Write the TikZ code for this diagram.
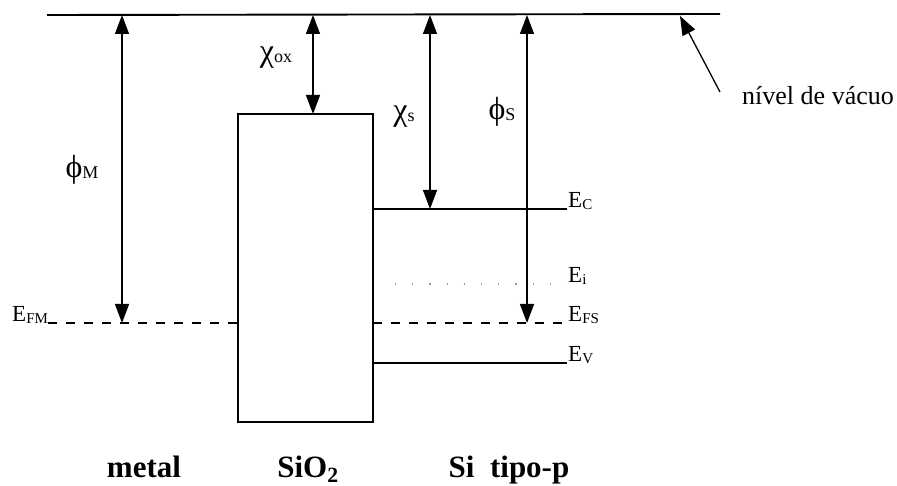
\documentclass[tikz,border=0pt]{standalone}
\usepackage{fontspec}
\setmainfont{Liberation Serif}
\usetikzlibrary{arrows.meta}
\newcommand{\sbs}[1]{{\fontsize{15}{15}\selectfont\raisebox{-1.5pt}{#1}}}
\newcommand{\gsb}[1]{{\fontsize{18}{18}\selectfont\raisebox{-1pt}{#1}}}
\newcommand{\grk}[1]{{\fontsize{32}{32}\selectfont #1}}
\begin{document}
\begin{tikzpicture}[x=1pt,y=-1pt,
  lvl/.style={line width=1.4pt},
  dbl/.style={line width=1.3pt,{Triangle[width=14pt,length=19pt]}-{Triangle[width=14pt,length=19pt]}},
  dashlvl/.style={line width=1.4pt,dash pattern=on 9pt off 9pt},
  dotlvl/.style={line width=1.3pt,gray!80,dash pattern=on 1.2pt off 16pt},
  elab/.style={inner sep=0pt,anchor=base west,font=\fontsize{23}{25}\selectfont},
  glab/.style={inner sep=0pt},
  blab/.style={inner sep=0pt,anchor=base,font=\fontsize{31}{33}\selectfont\bfseries},
  tlab/.style={inner sep=0pt,anchor=base west,font=\fontsize{26}{28}\selectfont}
]
\path[use as bounding box] (0,0) rectangle (897,486);
% vacuum level
\coordinate (vacL) at (47,15);
\coordinate (vacR) at (720,14);
\draw[line width=1.9pt] (vacL) -- (vacR);
% oxide box
\node[draw,line width=1.4pt,inner sep=0pt,minimum width=135pt,minimum height=308pt] (ox) at (305.5,268) {};
% levels
\coordinate (ecL) at (373,209);  \coordinate (ecR) at (567,209);
\coordinate (eiL) at (395,284);  \coordinate (eiR) at (567,284);
\coordinate (efsL) at (373,323); \coordinate (efsR) at (567,323);
\coordinate (evL) at (373,363);  \coordinate (evR) at (567,363);
\coordinate (efmL) at (48,323);  \coordinate (efmR) at (238,323);
\draw[lvl] (ecL) -- (ecR);
\draw[dotlvl] (eiL) -- (eiR);
\draw[dashlvl] (efsL) -- (efsR);
\draw[lvl] (evL) -- (evR);
\draw[dashlvl] (efmL) -- (efmR);
% arrows
\coordinate (phiMt) at (122,15);  \coordinate (phiMb) at (122,323);
\coordinate (chiOt) at (313,15);  \coordinate (chiOb) at (313,114);
\coordinate (chiSt) at (430,15);  \coordinate (chiSb) at (430,209);
\coordinate (phiSt) at (527,15);  \coordinate (phiSb) at (527,323);
\draw[dbl] (phiMt) -- (phiMb);
\draw[dbl] (chiOt) -- (chiOb);
\draw[dbl] (chiSt) -- (chiSb);
\draw[dbl] (phiSt) -- (phiSb);
% greek labels
\node[glab] (lphiM) at (82,170) {\grk{ϕ}\gsb{M}};
\node[glab] (lchiO) at (276,58) {\grk{χ}\gsb{ox}};
\node[glab] (lchiS) at (404,117) {\grk{χ}\gsb{s}};
\node[glab] (lphiS) at (502,112) {\grk{ϕ}\gsb{S}};
% energy labels
\node[elab] (lEc) at (568,208) {E\sbs{C}};
\node[elab] (lEi) at (568,283) {E\sbs{i}};
\node[elab] (lEfs) at (568,322) {E\sbs{FS}};
\node[elab] (lEv) at (568,362) {E\sbs{V}};
\node[elab] (lEfm) at (12,322) {E\sbs{FM}};
% vacuum label and arrow
\node[tlab] (lvac) at (742,105) {nível de vácuo};
\coordinate (vacTail) at (720,92);
\coordinate (vacHead) at (680,16);
\draw[line width=1.3pt,-{Triangle[width=14pt,length=19pt]}] (vacTail) -- (vacHead);
% bottom labels
\node[blab] (lmetal) at (144,477) {metal};
\node[blab] (lsio) at (308,477) {SiO\textsubscript{2}};
\node[blab] (lsi) at (509,477) {Si\ \ tipo-p};
\end{tikzpicture}
\end{document}
